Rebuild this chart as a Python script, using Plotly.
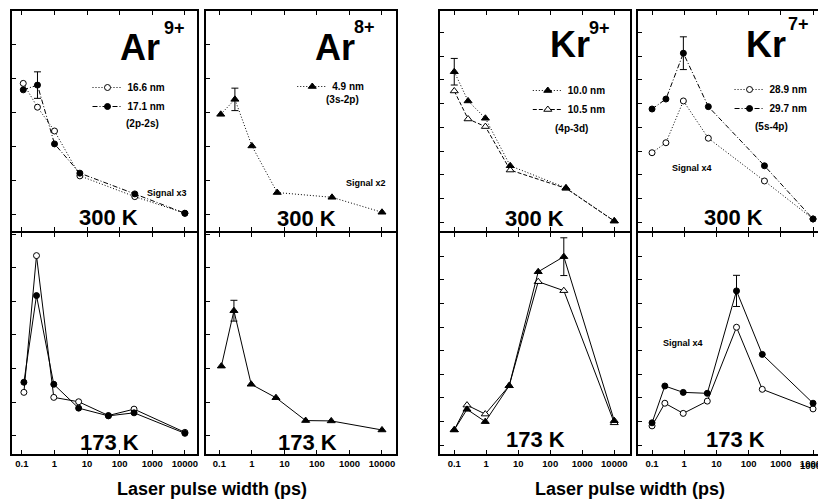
import math
import plotly.graph_objects as go

# ---------------- data (arbitrary signal units) ----------------
pw_ar_300 = [0.11, 0.3, 1.0, 6.0, 290, 10000]
pw_ar_173 = [0.115, 0.28, 0.95, 5.5, 45, 275, 10000]
pw_kr_300 = [0.1, 0.27, 0.94, 5.6, 310, 10000]
pw_kr_173 = [0.1, 0.25, 0.93, 5.2, 42, 265, 10000]

ar9_166_300 = [3.85, 3.15, 2.45, 1.13, 0.52, 0.03]
ar9_171_300 = [3.66, 3.80, 2.07, 1.21, 0.60, 0.03]
ar8_49_300 = [2.94, 3.38, 2.01, 0.64, 0.50, 0.06]
kr9_100_300 = [6.34, 5.11, 4.38, 2.38, 1.45, 0.06]
kr9_105_300 = [5.53, 4.35, 4.03, 2.20, 1.43, 0.05]
kr7_289_300 = [2.93, 3.35, 5.11, 3.54, 1.74, 0.14]
kr7_297_300 = [4.77, 5.19, 7.12, 4.87, 2.38, 0.14]

ar9_166_173 = [1.29, 5.36, 1.14, 1.01, 0.60, 0.79, 0.10]
ar9_171_173 = [1.59, 4.17, 1.53, 0.82, 0.59, 0.68, 0.07]
ar8_49_173 = [2.07, 3.72, 1.53, 1.13, 0.45, 0.44, 0.17]
kr9_100_173 = [0.64, 1.51, 0.99, 2.51, 7.34, 7.98, 1.03]
kr9_105_173 = [0.64, 1.69, 1.31, 2.51, 6.92, 6.54, 0.94]
kr7_289_173 = [0.81, 1.77, 1.34, 1.86, 4.99, 2.36, 1.53]
kr7_297_173 = [0.94, 2.50, 2.23, 2.19, 6.53, 3.84, 1.77]

# error bars: (index of point, half length)
err_ar9_171_300 = (1, 0.39)
err_ar8_49_300 = (1, 0.33)
err_kr9_100_300 = (0, 0.56)
err_kr7_297_300 = (2, 0.69)
err_ar8_49_173 = (1, 0.31)
err_kr9_100_173 = (5, 0.80)
err_kr7_297_173 = (4, 0.66)

tick_vals = [0.1, 1, 10, 100, 1000, 10000]
tick_text = ["0.1", "1", "10", "100", "1000", "10000"]

# ---------------- layout helpers ----------------
# the page body has an 8px margin, so the figure is drawn 8px smaller and
# all positions below are given in window pixels
OFF = 8
W, H = 826 - OFF, 499 - OFF
FONT = "Liberation Sans, Arial, Helvetica, sans-serif"

DOT = "1px,2px"
DASHDOT = "5px,2px,1px,2px"
DASH = "4px,2px"


def fx(p):
    return (p - OFF) / W


def fy(p):
    return 1 - (p - OFF) / H


col_dom = [(12, 198), (207.5, 398), (443, 634), (642, 826)]
col_xrange = [(-1.305, 4.366), (-1.403, 4.419), (-1.435, 4.497), (-1.432, 4.247)]
row_dom = [(231, 11), (454, 233)]
yranges = {
    (0, "ar"): (-0.491, 5.979), (1, "ar"): (-0.545, 6.033),
    (0, "kr"): (-0.366, 8.897), (1, "kr"): (-0.381, 8.983),
}

fig = go.Figure()
layout = dict(
    width=W, height=H, autosize=False,
    margin=dict(l=0, r=0, t=0, b=0),
    paper_bgcolor="white", plot_bgcolor="white",
    font=dict(family=FONT, color="black"),
    showlegend=True,
)

axis_ids = {}
n = 0
for r in range(2):
    for c in range(4):
        n += 1
        sfx = "" if n == 1 else str(n)
        axis_ids[(r, c)] = ("x" + sfx, "y" + sfx)
        kind = "ar" if c < 2 else "kr"
        layout["xaxis" + sfx] = dict(
            domain=[max(0, fx(col_dom[c][0])), min(1, fx(col_dom[c][1]))],
            anchor="y" + sfx, type="log", range=list(col_xrange[c]),
            tickvals=tick_vals, ticktext=tick_text,
            showticklabels=(r == 1), ticklabeloverflow="allow",
            tickfont=dict(size=9.5, family=FONT, weight="bold"),
            ticks="inside", ticklen=4, tickwidth=1, tickcolor="black",
            showline=True, linecolor="black", linewidth=2, mirror="ticks",
            showgrid=False, zeroline=False,
        )
        layout["yaxis" + sfx] = dict(
            domain=[fy(row_dom[r][0]), fy(row_dom[r][1])],
            anchor="x" + sfx, range=list(yranges[(r, kind)]),
            tick0=0, dtick=1, showticklabels=False,
            ticks="inside", ticklen=4, tickwidth=1, tickcolor="black",
            showline=True, linecolor="black", linewidth=2, mirror=True,
            showgrid=False, zeroline=False,
        )


def add_series(r, c, xs, ys, symbol, filled, dash, name=None, legend=None, msize=6):
    xa, ya = axis_ids[(r, c)]
    fig.add_trace(go.Scatter(
        x=xs, y=ys, mode="lines+markers", xaxis=xa, yaxis=ya,
        name=name if name else "", showlegend=name is not None,
        legend=legend if legend else "legend",
        line=dict(color="black", width=1, dash=dash),
        marker=dict(symbol=symbol, size=msize,
                    color="black" if filled else "white",
                    line=dict(color="black", width=1)),
        hoverinfo="skip",
    ))


def add_err(r, c, xs, ys, err):
    xa, ya = axis_ids[(r, c)]
    i, e = err
    fig.add_trace(go.Scatter(
        x=[xs[i]], y=[ys[i]], mode="markers", xaxis=xa, yaxis=ya,
        showlegend=False, marker=dict(size=1, color="black"),
        error_y=dict(type="data", array=[e], visible=True, color="black",
                     thickness=1, width=3.5),
        hoverinfo="skip",
    ))


# --- error bars first (drawn under markers) ---
add_err(0, 0, pw_ar_300, ar9_171_300, err_ar9_171_300)
add_err(0, 1, pw_ar_300, ar8_49_300, err_ar8_49_300)
add_err(0, 2, pw_kr_300, kr9_100_300, err_kr9_100_300)
add_err(0, 3, pw_kr_300, kr7_297_300, err_kr7_297_300)
add_err(1, 1, pw_ar_173, ar8_49_173, err_ar8_49_173)
add_err(1, 2, pw_kr_173, kr9_100_173, err_kr9_100_173)
add_err(1, 3, pw_kr_173, kr7_297_173, err_kr7_297_173)

# --- 300 K row ---
add_series(0, 0, pw_ar_300, ar9_166_300, "circle", False, DOT, "16.6 nm", "legend")
add_series(0, 0, pw_ar_300, ar9_171_300, "circle", True, DASHDOT, "17.1 nm", "legend")
add_series(0, 1, pw_ar_300, ar8_49_300, "triangle-up", True, DOT, "4.9 nm", "legend2", 7)
add_series(0, 2, pw_kr_300, kr9_105_300, "triangle-up", False, DASH, None, None, 7)
add_series(0, 2, pw_kr_300, kr9_100_300, "triangle-up", True, DOT, "10.0 nm", "legend3", 7)
fig.add_trace(go.Scatter(x=[None], y=[None], mode="lines+markers", xaxis="x3", yaxis="y3",
                         name="10.5 nm", legend="legend3",
                         line=dict(color="black", width=1, dash=DASH),
                         marker=dict(symbol="triangle-up", size=7, color="white",
                                     line=dict(color="black", width=1))))
add_series(0, 3, pw_kr_300, kr7_289_300, "circle", False, DOT, "28.9 nm", "legend4")
add_series(0, 3, pw_kr_300, kr7_297_300, "circle", True, DASHDOT, "29.7 nm", "legend4")

# --- 173 K row ---
add_series(1, 0, pw_ar_173, ar9_166_173, "circle", False, "solid")
add_series(1, 0, pw_ar_173, ar9_171_173, "circle", True, "solid")
add_series(1, 1, pw_ar_173, ar8_49_173, "triangle-up", True, "solid", msize=7)
add_series(1, 2, pw_kr_173, kr9_105_173, "triangle-up", False, "solid", msize=7)
add_series(1, 2, pw_kr_173, kr9_100_173, "triangle-up", True, "solid", msize=7)
add_series(1, 3, pw_kr_173, kr7_289_173, "circle", False, "solid")
add_series(1, 3, pw_kr_173, kr7_297_173, "circle", True, "solid")

# ---------------- legends ----------------
leg_font = dict(size=10, family=FONT, weight="bold", color="black")


def leg(xp, yp):
    return dict(x=fx(xp), y=fy(yp), xanchor="left", yanchor="top",
                bgcolor="rgba(0,0,0,0)", borderwidth=0, font=leg_font,
                itemwidth=30, tracegroupgap=0, traceorder="normal")


layout["legend"] = leg(88, 73)
layout["legend2"] = leg(294, 72)
layout["legend3"] = leg(531, 76)
layout["legend4"] = leg(734, 75)

# ---------------- text annotations ----------------
ann = []


def text(x, y, s, size, xanchor="center"):
    ann.append(dict(x=fx(x), y=fy(y), xref="paper", yref="paper", text=s,
                    showarrow=False, xanchor=xanchor, yanchor="middle",
                    font=dict(size=size, family=FONT, weight="bold", color="black")))


# last tick label of the right-most panel: plotly hides it because it runs
# past the window edge, so it is written as text on that axis (log units)
ann.append(dict(x=math.log10(tick_vals[-1]), xref="x8", y=fy(465), yref="paper",
                text=tick_text[-1], showarrow=False, xanchor="center",
                yanchor="middle",
                font=dict(size=9.5, family=FONT, weight="bold", color="black")))

# element symbols with charge superscripts
text(141, 48, "Ar", 36)
text(176, 28, "9+", 18)
text(337.5, 48, "Ar", 36)
text(367, 27, "8+", 18)
text(573, 44, "Kr", 36)
text(603, 28, "9+", 18)
text(771, 44, "Kr", 36)
text(803, 24, "7+", 18)

# transitions
text(143, 123, "(2p-2s)", 10)
text(345, 100, "(3s-2p)", 10)
text(575, 128, "(4p-3d)", 10)
text(776, 127, "(5s-4p)", 10)

# signal multipliers
text(168, 193, "Signal x3", 9)
text(368, 183, "Signal x2", 9)
text(696, 168, "Signal x4", 9)
text(687, 343, "Signal x4", 9)

# temperatures
for xc, yc in [(109, 217), (308, 218), (538, 218), (738, 217)]:
    text(xc, yc, "300 K", 22)
for xc, yc in [(110, 442), (309, 442), (539, 439), (740, 439)]:
    text(xc, yc, "173 K", 22)

# x-axis titles
text(213, 489, "Laser pulse width (ps)", 18)
text(634, 489, "Laser pulse width (ps)", 18)

layout["annotations"] = ann
fig.update_layout(**layout)
fig.write_html("out.html")
